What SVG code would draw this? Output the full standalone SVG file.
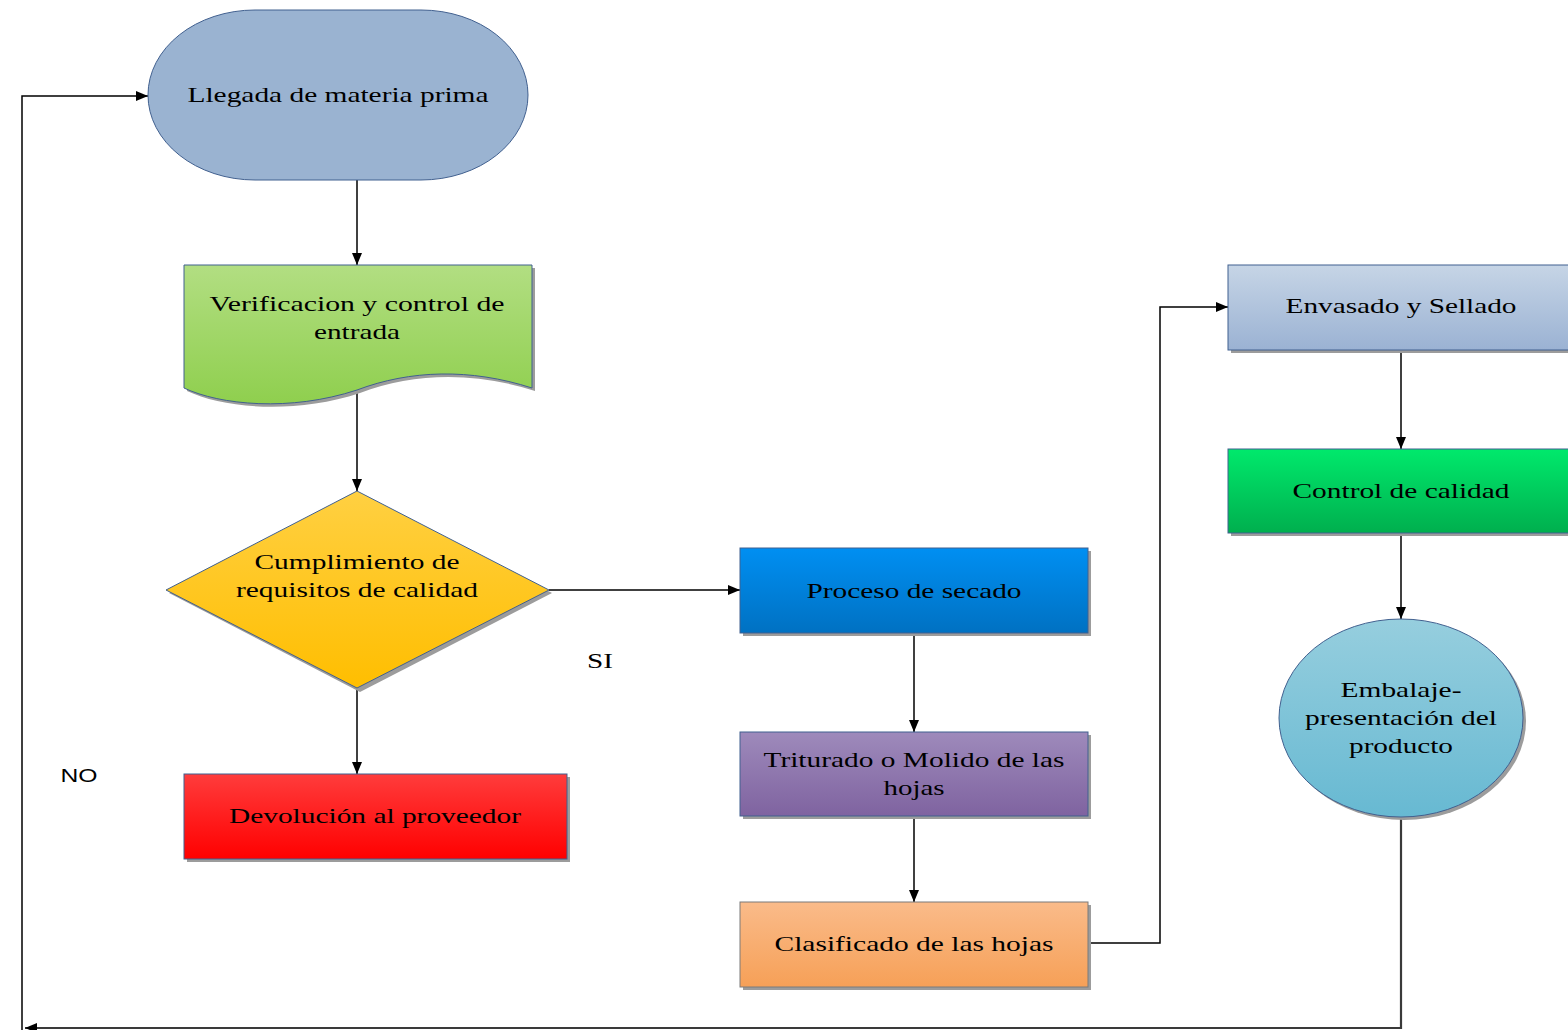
<svg xmlns="http://www.w3.org/2000/svg" width="1568" height="1030" viewBox="0 0 1568 1030">
<style>
.t{font-family:"Liberation Serif","Times New Roman",serif;font-size:22px;fill:#000;text-anchor:middle}
.s{font-family:"Liberation Sans",Arial,sans-serif;font-size:19px;fill:#000;text-anchor:middle}
.shape{stroke:#41608F;stroke-width:1}
.sh{fill:#9C9C9C}
.c{fill:none;stroke:#000;stroke-width:1.5}
.cb{fill:none;stroke:#3A3A3A;stroke-width:2.2}
</style>
<defs>
<marker id="ah" markerWidth="12" markerHeight="10" refX="12" refY="5" orient="auto" markerUnits="userSpaceOnUse">
<path d="M0,0 L12,5 L0,10 Z" fill="#000"/>
</marker>
<linearGradient id="gGreen1" x1="0" y1="0" x2="0" y2="1"><stop offset="0" stop-color="#B2DE82"/><stop offset="1" stop-color="#8FCF4E"/></linearGradient>
<linearGradient id="gYellow" x1="0" y1="0" x2="0" y2="1"><stop offset="0" stop-color="#FFD042"/><stop offset="1" stop-color="#FFBE00"/></linearGradient>
<linearGradient id="gRed" x1="0" y1="0" x2="0" y2="1"><stop offset="0" stop-color="#FF3C3C"/><stop offset="1" stop-color="#FF0000"/></linearGradient>
<linearGradient id="gBlue" x1="0" y1="0" x2="0" y2="1"><stop offset="0" stop-color="#008FF2"/><stop offset="1" stop-color="#0071C2"/></linearGradient>
<linearGradient id="gPurple" x1="0" y1="0" x2="0" y2="1"><stop offset="0" stop-color="#9E8ABB"/><stop offset="1" stop-color="#7F63A0"/></linearGradient>
<linearGradient id="gOrange" x1="0" y1="0" x2="0" y2="1"><stop offset="0" stop-color="#FABB8A"/><stop offset="1" stop-color="#F6A057"/></linearGradient>
<linearGradient id="gSteel" x1="0" y1="0" x2="0" y2="1"><stop offset="0" stop-color="#C6D5E6"/><stop offset="1" stop-color="#9BB2D3"/></linearGradient>
<linearGradient id="gGreen2" x1="0" y1="0" x2="0" y2="1"><stop offset="0" stop-color="#00E96C"/><stop offset="1" stop-color="#00AF4E"/></linearGradient>
<linearGradient id="gTeal" x1="0" y1="0" x2="0" y2="1"><stop offset="0" stop-color="#96CEDE"/><stop offset="1" stop-color="#67B9D2"/></linearGradient>
</defs>
<rect width="1568" height="1030" fill="#fff"/>

<g id="connectors">
<path class="c" d="M357,180 V265" marker-end="url(#ah)"/>
<path class="c" d="M357,390 V491" marker-end="url(#ah)"/>
<path class="c" d="M549,590 H740" marker-end="url(#ah)"/>
<path class="c" d="M357,688 V774" marker-end="url(#ah)"/>
<path class="c" d="M914,633 V732" marker-end="url(#ah)"/>
<path class="c" d="M914,816 V902" marker-end="url(#ah)"/>
<path class="c" d="M1088,943 H1160 V307 H1228" marker-end="url(#ah)"/>
<path class="c" d="M1401,350 V449" marker-end="url(#ah)"/>
<path class="c" d="M1401,533 V619" marker-end="url(#ah)"/>
<path class="cb" d="M1401,817 V1028 H25" marker-end="url(#ah)"/>
<path class="c" d="M22,1030 V96 H148" marker-end="url(#ah)"/>
<text class="t" x="600" y="668" textLength="26" lengthAdjust="spacingAndGlyphs">SI</text>
<text class="s" x="79" y="782" textLength="37" lengthAdjust="spacingAndGlyphs">NO</text>
</g>

<g id="n1">
<rect x="148" y="10" width="380" height="170" rx="107" ry="85" fill="#9AB3D1" class="shape"/>
<text class="t" x="338" y="102" textLength="301" lengthAdjust="spacingAndGlyphs">Llegada de materia prima</text>
</g>

<g id="n2">
<path class="sh" d="M187,268 H535 V391 C473,371 413,373 360,393 C293,415 223,408 187,391 Z"/>
<path class="shape" fill="url(#gGreen1)" d="M184,265 H532 V388 C470,368 410,370 357,390 C290,412 220,405 184,388 Z"/>
<text class="t" x="357" y="311" textLength="295" lengthAdjust="spacingAndGlyphs">Verificacion y control de</text>
<text class="t" x="357" y="339" textLength="86" lengthAdjust="spacingAndGlyphs">entrada</text>
</g>

<g id="n3">
<path class="sh" d="M360,494 L552,593 L360,692 L169,593 Z"/>
<path class="shape" fill="url(#gYellow)" d="M357,491 L549,590 L357,688 L166,590 Z"/>
<text class="t" x="357" y="569" textLength="205" lengthAdjust="spacingAndGlyphs">Cumplimiento de</text>
<text class="t" x="357" y="597" textLength="242" lengthAdjust="spacingAndGlyphs">requisitos de calidad</text>
</g>

<g id="n4">
<rect class="sh" x="187" y="777" width="383" height="85"/>
<rect class="shape" x="184" y="774" width="383" height="85" fill="url(#gRed)"/>
<text class="t" x="375" y="823" textLength="292" lengthAdjust="spacingAndGlyphs">Devolución al proveedor</text>
</g>

<g id="n5">
<rect class="sh" x="743" y="551" width="348" height="85"/>
<rect class="shape" x="740" y="548" width="348" height="85" fill="url(#gBlue)"/>
<text class="t" x="914" y="598" textLength="215" lengthAdjust="spacingAndGlyphs">Proceso de secado</text>
</g>

<g id="n6">
<rect class="sh" x="743" y="735" width="348" height="84"/>
<rect class="shape" x="740" y="732" width="348" height="84" fill="url(#gPurple)"/>
<text class="t" x="914" y="767" textLength="301" lengthAdjust="spacingAndGlyphs">Triturado o Molido de las</text>
<text class="t" x="914" y="795" textLength="61" lengthAdjust="spacingAndGlyphs">hojas</text>
</g>

<g id="n7">
<rect class="sh" x="743" y="905" width="348" height="85"/>
<rect x="740" y="902" width="348" height="85" fill="url(#gOrange)" stroke="#7A7A7A" stroke-width="1"/>
<text class="t" x="914" y="951" textLength="279" lengthAdjust="spacingAndGlyphs">Clasificado de las hojas</text>
</g>

<g id="n8">
<rect class="sh" x="1231" y="268" width="345" height="85"/>
<rect class="shape" x="1228" y="265" width="345" height="85" fill="url(#gSteel)"/>
<text class="t" x="1401" y="313" textLength="231" lengthAdjust="spacingAndGlyphs">Envasado y Sellado</text>
</g>

<g id="n9">
<rect class="sh" x="1231" y="452" width="345" height="84"/>
<rect class="shape" x="1228" y="449" width="345" height="84" fill="url(#gGreen2)"/>
<text class="t" x="1401" y="498" textLength="217" lengthAdjust="spacingAndGlyphs">Control de calidad</text>
</g>

<g id="n10">
<ellipse class="sh" cx="1404" cy="721" rx="122" ry="99"/>
<ellipse class="shape" cx="1401" cy="718" rx="122" ry="99" fill="url(#gTeal)"/>
<text class="t" x="1401" y="697" textLength="121" lengthAdjust="spacingAndGlyphs">Embalaje-</text>
<text class="t" x="1401" y="725" textLength="192" lengthAdjust="spacingAndGlyphs">presentación del</text>
<text class="t" x="1401" y="753" textLength="104" lengthAdjust="spacingAndGlyphs">producto</text>
</g>
</svg>
